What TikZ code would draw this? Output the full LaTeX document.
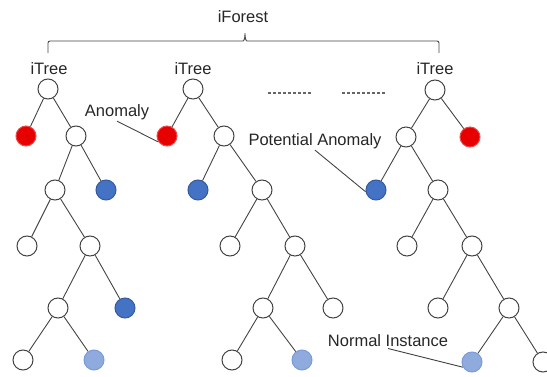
\documentclass[tikz,border=0pt]{standalone}
\usepackage{fontspec}
\setmainfont{Liberation Sans}
\usepackage{tikz}
\usetikzlibrary{positioning}
\definecolor{anomred}{HTML}{E60000}
\definecolor{anomblue}{HTML}{4472C4}
\definecolor{paleblue}{HTML}{8FAADC}
\definecolor{edgegray}{HTML}{444444}

\begin{document}
\begin{tikzpicture}[
x=1pt, y=-1pt,
vertex/.style={circle, draw=edgegray, fill=white, line width=1pt, minimum size=20pt, inner sep=0},
rednode/.style={vertex, draw=anomred!70, fill=anomred},
bluenode/.style={vertex, draw=anomblue!80!black, fill=anomblue},
palenode/.style={vertex, draw=anomblue!70, fill=paleblue},
lbl/.style={font=\fontsize{16.5}{19}\selectfont, text=black!85, inner sep=1pt},
link/.style={draw=edgegray},
every path/.style={line width=0.9pt}
]
\useasboundingbox (0,0) rectangle (547,377);
% labels
\node[lbl] (forest) at (243,17) {iForest};
\node[lbl] (tree1) at (49,69) {iTree};
\node[lbl] (tree2) at (193,69) {iTree};
\node[lbl] (tree3) at (435,69) {iTree};
\node[lbl] (anom) at (117,112) {Anomaly};
\node[lbl] (potential) at (315,141) {Potential Anomaly};
\node[lbl] (instance) at (388,341) {Normal Instance};
% brace over the trees
\coordinate (bl) at (48,53);
\coordinate (br) at (439,53);
\draw[link] (bl) [rounded corners=2pt] -- (48,41) -- (241,41) .. controls (244,41) and (245,38) .. (245,32)
  .. controls (245,38) and (246,41) .. (249,41) -- (439,41) -- (br);
% dots between the trees
\draw[dash pattern=on 2.5pt off 2.5pt, line width=1.4pt, draw=black!60] (268,93) -- (311,93);
\draw[dash pattern=on 2.5pt off 2.5pt, line width=1.4pt, draw=black!60] (342,93) -- (385,93);
% first tree
\node[vertex] (r1) at (48,89) {};
\node[rednode] (a1) at (26,136) {};
\node[vertex] (b1) at (76,136) {};
\node[vertex] (c1) at (55,190) {};
\node[bluenode] (d1) at (106,190) {};
\node[vertex] (e1) at (27,246) {};
\node[vertex] (f1) at (90,246) {};
\node[vertex] (g1) at (58,308) {};
\node[bluenode] (h1) at (125,308) {};
\node[vertex] (i1) at (23,360) {};
\node[palenode] (j1) at (94,360) {};
% second tree
\node[vertex] (r2) at (193,89) {};
\node[rednode] (a2) at (167,136) {};
\node[vertex] (b2) at (224,136) {};
\node[bluenode] (c2) at (198,190) {};
\node[vertex] (d2) at (262,190) {};
\node[vertex] (e2) at (230,246) {};
\node[vertex] (f2) at (295,246) {};
\node[vertex] (g2) at (263,308) {};
\node[vertex] (h2) at (333,308) {};
\node[vertex] (i2) at (232,360) {};
\node[palenode] (j2) at (302,360) {};
% last tree
\node[vertex] (r3) at (435,90) {};
\node[vertex] (a3) at (406,137) {};
\node[rednode] (b3) at (470,137) {};
\node[bluenode] (c3) at (376,190) {};
\node[vertex] (d3) at (438,190) {};
\node[vertex] (e3) at (407,246) {};
\node[vertex] (f3) at (472,246) {};
\node[vertex] (g3) at (438,308) {};
\node[vertex] (h3) at (509,308) {};
\node[palenode] (i3) at (472,362) {};
\node[vertex] (j3) at (543,362) {};
% edges
\foreach \u/\v in {r1/a1, r1/b1, b1/c1, b1/d1, c1/e1, c1/f1, f1/g1, f1/h1, g1/i1, g1/j1,
  r2/a2, r2/b2, b2/c2, b2/d2, d2/e2, d2/f2, f2/g2, f2/h2, g2/i2, g2/j2,
  r3/a3, r3/b3, a3/c3, a3/d3, d3/e3, d3/f3, f3/g3, f3/h3, h3/i3, h3/j3}
  \draw[link] (\u) -- (\v);
% pointers from the labels
\draw[link] (anom.south) -- (a2.215);
\draw[link] (potential.south) -- (c3.190);
\draw[link] (instance.south) -- (i3.210);
\end{tikzpicture}
\end{document}
